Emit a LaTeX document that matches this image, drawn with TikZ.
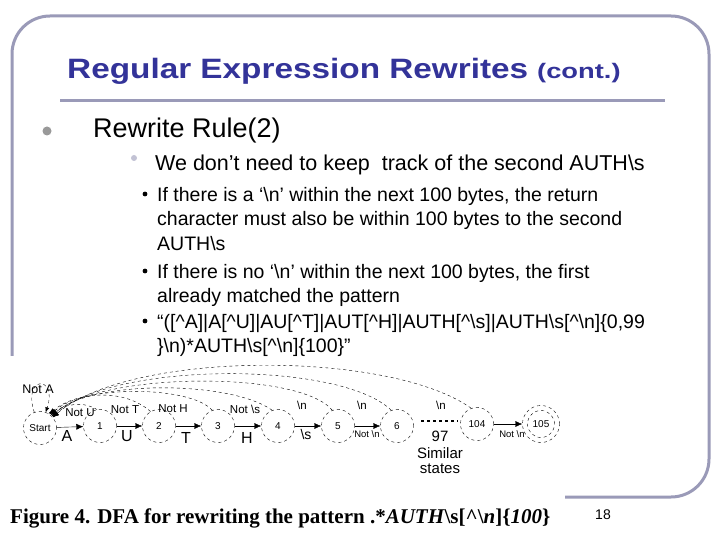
\documentclass[tikz,border=0pt]{standalone}
\usepackage{fontspec}
\setmainfont{Liberation Sans}
\newfontfamily\serifb{Liberation Serif}
\usetikzlibrary{arrows.meta}
\definecolor{frame}{HTML}{9A9AB8}
\definecolor{titleblue}{HTML}{333399}
\tikzset{
 st/.style={circle,draw,dashed,minimum size=33pt,inner sep=0pt,font=\fontsize{10}{11}\selectfont},
 tr/.style={-{Latex[length=7pt,width=6pt]},thin},
 back/.style={dashed,thin,-{Latex[length=6pt,width=5pt]}},
 lab/.style={font=\fontsize{11.5}{12}\selectfont,inner sep=0pt},
 bl/.style={font=\fontsize{15}{16}\selectfont,inner sep=0pt},
 t3/.style={anchor=west,font=\fontsize{19.5}{21}\selectfont,inner sep=0pt},
}
\begin{document}
\begin{tikzpicture}[x=1pt,y=-1pt]
\useasboundingbox (0,0) rectangle (720,540);
\fill[white] (0,0) rectangle (720,540);
\draw[frame,line width=3pt,rounded corners=38pt] (12,497) -- (12,16) -- (709,16) -- (709,497) -- (565,497);
\fill[white] (0,356) rectangle (565,540);
\node[anchor=base west,inner sep=0pt,text=titleblue] (title) at (67,79) {\scalebox{1.19}[1]{\fontsize{28}{30}\selectfont\bfseries Regular Expression Rewrites}};
\node[anchor=base west,inner sep=0pt,text=titleblue] (cont) at (537,79) {\scalebox{1.3}[1]{\fontsize{21}{24}\selectfont\bfseries (cont.)}};
\draw[frame,line width=3pt] (60,101) -- (665,101);
\fill[gray!80] (47,131) circle (4.5pt);
\node[anchor=west,inner sep=0pt] (b1) at (93,131) {\fontsize{27}{30}\selectfont Rewrite Rule(2)};
\fill[frame!60] (134,158) circle (3pt);
\node[anchor=west,inner sep=0pt] (b2) at (155,165) {\fontsize{21.5}{24}\selectfont We don’t need to keep\ \ track of the second AUTH\textbackslash s};
\foreach \y in {194,271,321} \fill (145,\y) circle (2.4pt);
\node[t3] (l1) at (157,196) {If there is a ‘\textbackslash n’ within the next 100 bytes, the return};
\node[t3] (l2) at (157,220) {character must also be within 100 bytes to the second};
\node[t3] (l3) at (157,244) {AUTH\textbackslash s};
\node[t3] (l4) at (157,273) {If there is no ‘\textbackslash n’ within the next 100 bytes, the first};
\node[t3] (l5) at (157,297) {already matched the pattern};
\node[t3] (l6) at (157,323) {“([\^{}A]|A[\^{}U]|AU[\^{}T]|AUT[\^{}H]|AUTH[\^{}\textbackslash s]|AUTH\textbackslash s[\^{}\textbackslash n]\{0,99};
\node[t3] (l7) at (157,347) {\}\textbackslash n)*AUTH\textbackslash s[\^{}\textbackslash n]\{100\}”};
% DFA
\node[st] (s0) at (40,428) {Start};
\node[st] (s1) at (100,426) {1};
\node[st] (s2) at (159,426) {2};
\node[st] (s3) at (218,426) {3};
\node[st] (s4) at (278,426) {4};
\node[st] (s5) at (338,426) {5};
\node[st] (s6) at (397,426) {6};
\node[st] (s104) at (477,424) {104};
\node[st,minimum size=27pt] (s105) at (541,424) {105};
\node[circle,draw,dashed,minimum size=37pt] (s105o) at (541,424) {};
\draw[tr] (s0) -- (s1);
\draw[tr] (s1) -- (s2);
\draw[tr] (s2) -- (s3);
\draw[tr] (s3) -- (s4);
\draw[tr] (s4) -- (s5);
\draw[tr] (s5) -- (s6);
\draw[tr] (s104) -- (s105o);
\node[lab,font=\fontsize{16}{18}\selectfont] (la) at (67,436) {A};
\node[lab,font=\fontsize{16}{18}\selectfont] (lu) at (127,436) {U};
\node[lab,font=\fontsize{16}{18}\selectfont] (lt) at (186,438) {T};
\node[lab,font=\fontsize{16}{18}\selectfont] (lh) at (247,438) {H};
\node[lab,font=\fontsize{14}{16}\selectfont] (ls) at (306,434) {\textbackslash s};
\node[lab,font=\fontsize{9.5}{10}\selectfont] (ln6) at (367,434) {Not \textbackslash n};
\node[lab,font=\fontsize{9.5}{10}\selectfont] (ln105) at (512,434) {Not \textbackslash n};
\draw[dashed,line width=1.5pt] (421,421) -- (458,421);
\node[bl] (n97) at (440,436) {97};
\node[bl] (sim) at (440,453) {Similar};
\node[bl] (sts) at (440,469) {states};
% self loop
\draw[dashed,thin,-{Latex[length=5pt,width=4pt]}] (s0.110) .. controls (22,375) and (58,375) .. (s0.70);
\node[lab,font=\fontsize{12.5}{13}\selectfont] (nA) at (38,389) {Not A};
% back arcs
\draw[back] (s1.100) to[out=150,in=25] (s0.60);
\draw[back] (s2.120) .. controls (120,385) and (70,395) .. (s0.55);
\draw[back] (s3.110) .. controls (190,385) and (80,385) .. (s0.50);
\draw[back] (s4.110) .. controls (230,380) and (90,380) .. (s0.45);
\draw[back] (s5.110) .. controls (300,370) and (100,372) .. (s0.45);
\draw[back] (s6.110) .. controls (340,360) and (110,362) .. (s0.40);
\draw[back] (s104.110) .. controls (390,350) and (130,350) .. (s0.40);
\node[lab] (nU) at (80,413) {Not U};
\node[lab] (nT) at (125,410) {Not T};
\node[lab] (nH) at (173,409) {Not H};
\node[lab] (ns) at (245,409) {Not \textbackslash s};
\node[lab] (n5) at (302,405) {\textbackslash n};
\node[lab] (n6) at (362,405) {\textbackslash n};
\node[lab] (n104) at (441,405) {\textbackslash n};
\node[anchor=base west,inner sep=0pt] (cap) at (10,523) {\serifb\bfseries\fontsize{21}{24}\selectfont Figure 4. DFA for rewriting the pattern .*\textit{AUTH}\textbackslash s[\^{}\textbackslash\textit{n}]\{\textit{100}\}};
\node[inner sep=0pt] (pg) at (603,515) {\fontsize{14}{15}\selectfont 18};
\end{tikzpicture}
\end{document}
